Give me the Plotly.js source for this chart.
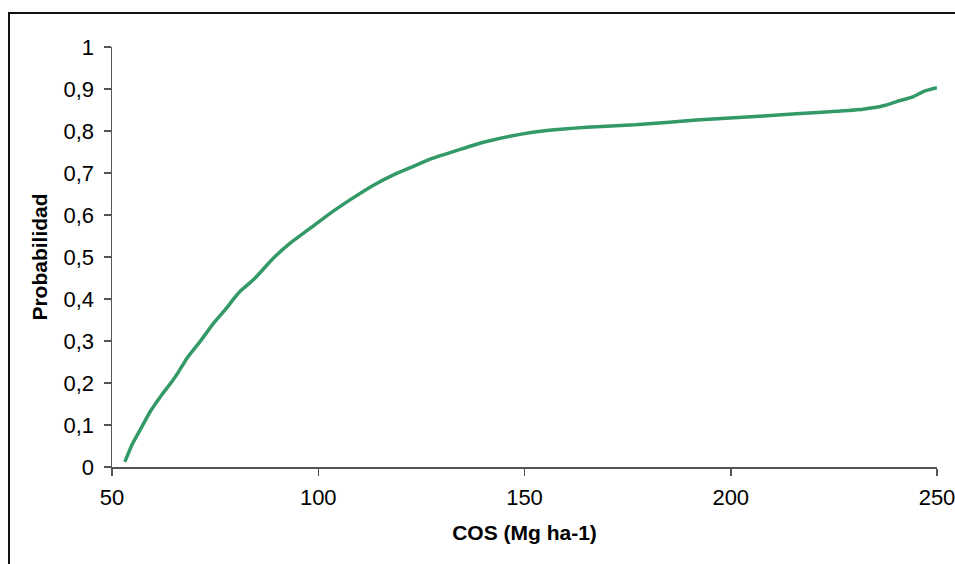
<!DOCTYPE html>
<html>
<head>
<meta charset="utf-8">
<script src="https://cdn.plot.ly/plotly-3.0.1.min.js"></script>
<style>
  html, body { margin: 0; padding: 0; background: #ffffff; }
  #chart { width: 955px; height: 564px; }
</style>
</head>
<body>
<div id="chart"></div>
<script>
// Data
const cosValues = [53.1, 54.8, 57.2, 59.2, 62.0, 64.5, 66.1, 68.1, 71.3, 74.6, 77.4, 79.4, 81.0, 84.4, 89.1, 93.2, 98.0, 102.9, 107.7, 113.4, 119.0, 124.3, 127.1, 132.7, 140.8, 148.9, 155.4, 165.1, 176.8, 191.7, 207.9, 224.1, 232.1, 237.0, 240.2, 244.3, 246.7, 250.0];
const probValues = [0.012, 0.052, 0.095, 0.131, 0.171, 0.203, 0.226, 0.258, 0.298, 0.342, 0.374, 0.399, 0.418, 0.447, 0.497, 0.533, 0.568, 0.604, 0.636, 0.671, 0.699, 0.721, 0.733, 0.751, 0.775, 0.792, 0.801, 0.809, 0.815, 0.826, 0.836, 0.846, 0.852, 0.860, 0.870, 0.882, 0.894, 0.903];

const xTickVals = [50, 100, 150, 200, 250];
const xTickText = ["50", "100", "150", "200", "250"];
const yTickVals = [0, 0.1, 0.2, 0.3, 0.4, 0.5, 0.6, 0.7, 0.8, 0.9, 1];
const yTickText = ["0", "0,1", "0,2", "0,3", "0,4", "0,5", "0,6", "0,7", "0,8", "0,9", "1"];

const W = 955, H = 564;
const m = { l: 112, r: 18, t: 47, b: 97 };
const pw = W - m.l - m.r, ph = H - m.t - m.b;
// outer chart border (top and left edges visible)
const bx = (9 - m.l) / pw;
const by = (H - m.b - 13) / ph;

const font = "Liberation Sans, Arial, sans-serif";

const trace = {
  x: cosValues,
  y: probValues,
  type: "scatter",
  mode: "lines",
  line: { color: "#339966", width: 3.5, shape: "spline", smoothing: 0.5 },
  hoverinfo: "skip"
};

const axisCommon = {
  showgrid: false,
  zeroline: false,
  showline: true,
  linecolor: "#555555",
  linewidth: 1.5,
  ticks: "outside",
  ticklen: 7,
  tickwidth: 1.5,
  tickcolor: "#555555",
  tickfont: { family: font, size: 22, color: "#000000" },
  tickmode: "array",
  ticklabeloverflow: "allow",
  automargin: false
};

const layout = {
  width: W,
  height: H,
  margin: m,
  paper_bgcolor: "#ffffff",
  plot_bgcolor: "#ffffff",
  showlegend: false,
  xaxis: Object.assign({}, axisCommon, {
    range: [50, 250],
    tickvals: xTickVals,
    ticktext: xTickText,
    ticklabelstandoff: 3,
    title: { text: "COS (Mg ha-1)", font: { family: font, size: 21, color: "#000000", weight: "bold" }, standoff: 16 }
  }),
  yaxis: Object.assign({}, axisCommon, {
    range: [0, 1],
    tickvals: yTickVals,
    ticktext: yTickText,
    ticklabelstandoff: 5,
    title: { text: "Probabilidad", font: { family: font, size: 21, color: "#000000", weight: "bold" }, standoff: 10 }
  }),
  shapes: [{
    type: "path",
    xref: "paper", yref: "paper",
    path: `M ${bx} -0.5 L ${bx} ${by} L 1.2 ${by}`,
    line: { color: "#111111", width: 2 },
    layer: "above"
  }]
};

Plotly.newPlot("chart", [trace], layout, { staticPlot: true, displayModeBar: false });
</script>
</body>
</html>
